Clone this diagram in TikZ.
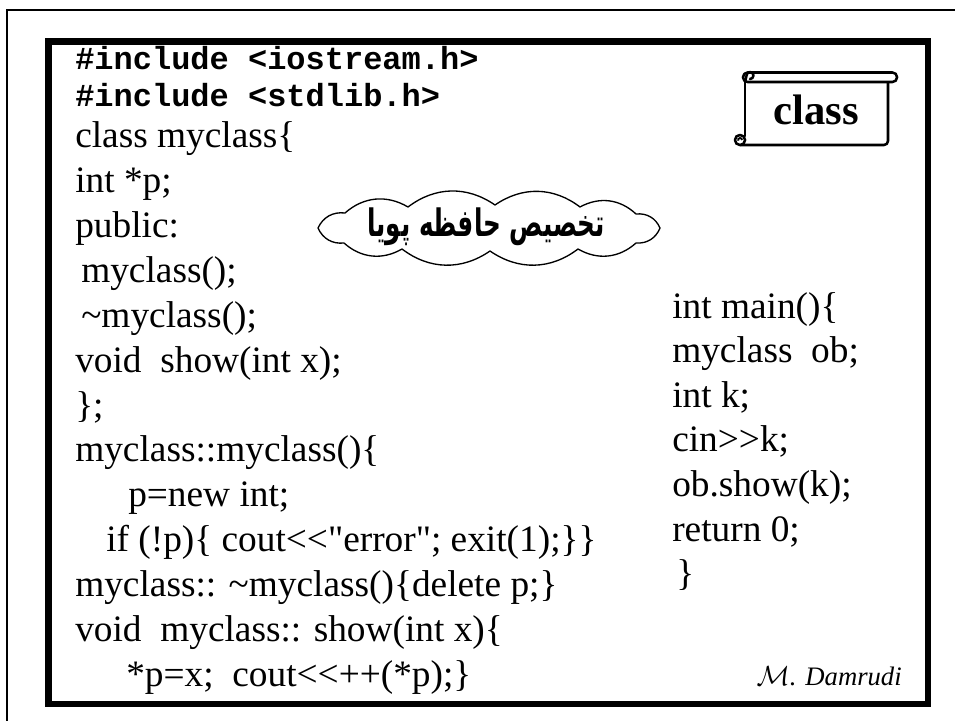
\documentclass[tikz,border=0pt]{standalone}
\usepackage{graphicx}
\usepackage{fontspec}
\setmainfont{Liberation Serif}
\newfontfamily\codemono{Liberation Mono}
\newfontfamily\arabicfont[Script=Arabic]{DejaVu Sans}
\TeXXeTstate=1

\begin{document}
\begin{tikzpicture}[x=0.75pt,y=-0.75pt,
  codeline/.style={anchor=base west, inner sep=0pt, font=\fontsize{28}{33}\selectfont},
  monoline/.style={anchor=base west, inner sep=0pt, font=\fontsize{24}{28}\codemono\bfseries\selectfont},
  scrollline/.style={line width=1.9pt, line cap=round, line join=round},
  puff/.style={bend left=36},
]
\useasboundingbox (0,0) rectangle (955,720);
\fill[white] (0,0) rectangle (955,720);

% frames
\draw[line width=1.5pt] (7,725) -- (7,10) -- (960,10);
\draw[line width=4.9pt] (48.5,41.5) rectangle (928,704);

% class declaration and member definitions
\node[monoline] (l1)  at (75,70)  {\#include <iostream.h>};
\node[monoline] (l2)  at (75,107) {\#include <stdlib.h>};
\node[codeline] (l3)  at (75,148) {class myclass\{};
\node[codeline] (l4)  at (75,192.8) {int *p;};
\node[codeline] (l5)  at (75,237.7) {public:};
\node[codeline] (l6)  at (81,282.5) {myclass();};
\node[codeline] (l7)  at (81,327.3) {\textasciitilde myclass();};
\node[codeline] (l8)  at (75,372.2) {void\ \ show(int x);};
\node[codeline] (l9)  at (75,417) {\};};
\node[codeline] (l10) at (75,461.8) {myclass::myclass()\{};
\node[codeline] (l11) at (128,506.7) {p=new int;};
\node[codeline] (l12) at (106,551.5) {if (!p)\{ cout<{}<\textquotedbl error\textquotedbl; exit(1);\}\}};
\node[codeline] (l13) at (75,596.3) {myclass:: \textasciitilde myclass()\{delete p;\}};
\node[codeline] (l14) at (75,641.2) {void\ \ myclass:: show(int x)\{};
\node[codeline] (l15) at (126,686) {*p=x;\ \ cout<{}<++(*p);\}};

% main function
\node[codeline] (m1) at (672,318) {int main()\{};
\node[codeline] (m2) at (672,362.6) {myclass\ \ ob;};
\node[codeline] (m3) at (672,407.2) {int k;};
\node[codeline] (m4) at (672,451.8) {cin>{}>k;};
\node[codeline] (m5) at (672,496.4) {ob.show(k);};
\node[codeline] (m6) at (672,541) {return 0;};
\node[codeline] (m7) at (676,585.6) {\}};

% scroll banner
\draw[scrollline] (745,82) -- (745,136);
\draw[scrollline, rounded corners=3pt] (740,145) -- (888,145) -- (888,82);
\draw[scrollline, fill=white, rounded corners=3.4pt] (743,72.5) rectangle (897,82);
\draw[scrollline] (750,79) arc[start angle=-90, end angle=180, radius=2.6pt] -- (745,82);
\draw[scrollline, fill=white] (740,140) circle[radius=3.8pt];
\draw[line width=1.4pt] (742,140) arc[start angle=0, end angle=200, radius=1.5pt];
\node[inner sep=0pt, anchor=base, font=\fontsize{32}{36}\selectfont\bfseries] (cls) at (816,125) {class};

% cloud callout, drawn puff by puff
\draw[line width=1pt, fill=white, line join=round]
  (318,228) to[puff] (345,213) to[puff] (408,207) to[puff] (495,205)
  to[puff] (580,207) to[puff] (636,214) to[puff] (660,228)
  to[puff] (636,243) to[puff] (578,249) to[puff] (490,251)
  to[puff] (402,249) to[puff] (344,243) to[puff] cycle;
\node[inner sep=0pt, font=\fontsize{21}{24}\arabicfont\bfseries\selectfont] (cloudtext) at (486,227)
  {\scalebox{0.88}[1.35]{\beginR تخصیص حافظه پویا\endR}};

% signature
\node[anchor=base east, inner sep=0pt, font=\fontsize{20}{24}\selectfont] (sig) at (902,685)
  {$\mathcal{M}$\textit{. Damrudi}};
\end{tikzpicture}
\end{document}
